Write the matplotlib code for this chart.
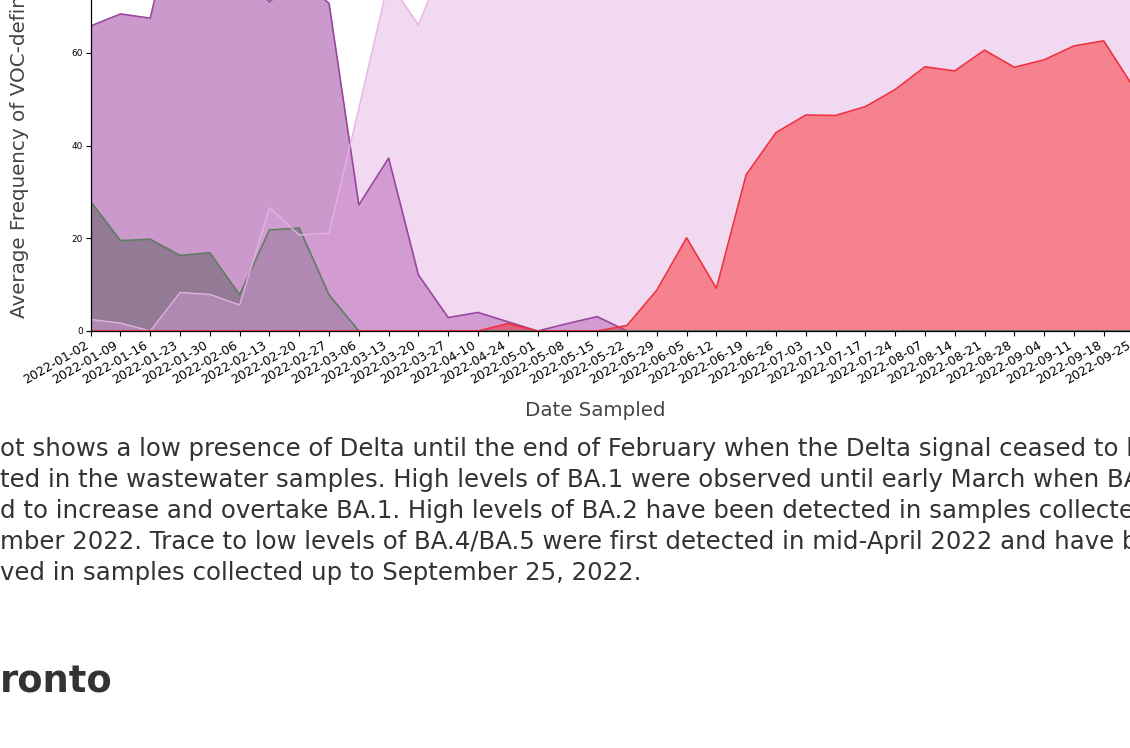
import matplotlib.pyplot as plt

# ---------------------------
# Data
# ---------------------------
dates = ["2022-01-02", "2022-01-09", "2022-01-16", "2022-01-23", "2022-01-30",
         "2022-02-06", "2022-02-13", "2022-02-20", "2022-02-27", "2022-03-06",
         "2022-03-13", "2022-03-20", "2022-03-27", "2022-04-10", "2022-04-24",
         "2022-05-01", "2022-05-08", "2022-05-15", "2022-05-22", "2022-05-29",
         "2022-06-05", "2022-06-12", "2022-06-19", "2022-06-26", "2022-07-03",
         "2022-07-10", "2022-07-17", "2022-07-24", "2022-08-07", "2022-08-14",
         "2022-08-21", "2022-08-28", "2022-09-04", "2022-09-11", "2022-09-18",
         "2022-09-25"]

ba1 = [65.8, 68.4, 67.5, 95.0, 88.0, 78.0, 71.0, 76.0, 70.7, 27.2,
       37.3, 12.1, 2.9, 4.0, 2.0, 0.0, 1.6, 3.1, 0.0, 0.0,
       0.0, 0.0, 0.0, 0.0, 0.0, 0.0, 0.0, 0.0, 0.0, 0.0,
       0.0, 0.0, 0.0, 0.0, 0.0, 0.0]

delta = [27.9, 19.5, 19.8, 16.3, 16.9, 7.8, 21.8, 22.2, 7.8, 0.0,
         0.0, 0.0, 0.0, 0.0, 0.0, 0.0, 0.0, 0.0, 0.0, 0.0,
         0.0, 0.0, 0.0, 0.0, 0.0, 0.0, 0.0, 0.0, 0.0, 0.0,
         0.0, 0.0, 0.0, 0.0, 0.0, 0.0]

ba2 = [2.5, 1.7, 0.0, 8.3, 7.9, 5.6, 26.6, 20.7, 21.1, 48.0,
       75.6, 66.0, 82.0, 88.0, 90.0, 91.0, 92.0, 93.0, 92.0, 93.0,
       94.0, 93.0, 92.0, 93.0, 94.0, 93.0, 94.0, 94.0, 95.0, 94.0,
       95.0, 94.0, 95.0, 95.0, 94.0, 95.0]

ba45 = [0.0, 0.0, 0.0, 0.0, 0.0, 0.0, 0.0, 0.0, 0.0, 0.0,
        0.0, 0.0, 0.0, 0.0, 1.6, 0.0, 0.0, 0.0, 1.2, 8.8,
        20.1, 9.2, 33.7, 42.8, 46.6, 46.5, 48.4, 52.1, 57.0, 56.1,
        60.6, 56.9, 58.5, 61.5, 62.6, 52.6]

yticks = [0, 20, 40, 60]

paragraph = [
    "ot shows a low presence of Delta until the end of February when the Delta signal ceased to be",
    "ted in the wastewater samples. High levels of BA.1 were observed until early March when BA.2 began",
    "d to increase and overtake BA.1. High levels of BA.2 have been detected in samples collected through",
    "mber 2022. Trace to low levels of BA.4/BA.5 were first detected in mid-April 2022 and have been",
    "ved in samples collected up to September 25, 2022.",
]

W, H = 1130, 748
fig = plt.figure(figsize=(W / 100, H / 100), dpi=100)

# axes run past the top and right edge, like the cropped page
x0, x1 = 90.7, 1133.5
y_zero, px_per_unit = 331, 4.635
ax = fig.add_axes([x0 / W, (H - y_zero) / H, (x1 - x0) / W, 100 * px_per_unit / H])

x = list(range(len(dates)))

# fills first, then the edge lines
ax.fill_between(x, ba1, color="purple", alpha=0.4, lw=0)
ax.fill_between(x, delta, color="#3e4e45", alpha=0.4, lw=0)
ax.fill_between(x, ba2, color="plum", alpha=0.4, lw=0)
ax.fill_between(x, ba45, color="red", alpha=0.4, lw=0)

ax.plot(x, ba1, color="#9a45a0", lw=1.2)
ax.plot(x, delta, color="#5f7d60", lw=1.2)
ax.plot(x, ba2, color="#e2b2e2", lw=1.0)
ax.plot(x, ba45, color="#f0323e", lw=1.2)

ax.set_xlim(0, len(dates) - 1)
ax.set_ylim(0, 100)
ax.set_yticks(yticks)
ax.tick_params(axis="y", labelsize=6.5, length=3.5, width=0.8, pad=2)
ax.tick_params(axis="x", labelsize=9.1, length=3.5, width=0.8, pad=2)
ax.set_xticks(x)
ax.set_xticklabels(dates, rotation=30, ha="right")
for s in ax.spines.values():
    s.set_linewidth(0.9)

fig.text(595 / W, 1 - 411 / H, "Date Sampled", fontsize=14.3,
         color="#444444", ha="center", va="center")
fig.text(20 / W, 1 - 318 / H, "Average Frequency of VOC-defining Mutations (%)",
         fontsize=14.3, color="#444444", rotation=90, ha="center", va="bottom")

for i, line in enumerate(paragraph):
    fig.text(0, 1 - (449 + 31 * i) / H, line, fontsize=17.6,
             color="#333333", ha="left", va="center")

fig.text(0, 1 - 682 / H, "ronto", fontsize=26.5, fontweight="bold",
         color="#333333", ha="left", va="center")

fig.savefig("out.png", dpi=100)
